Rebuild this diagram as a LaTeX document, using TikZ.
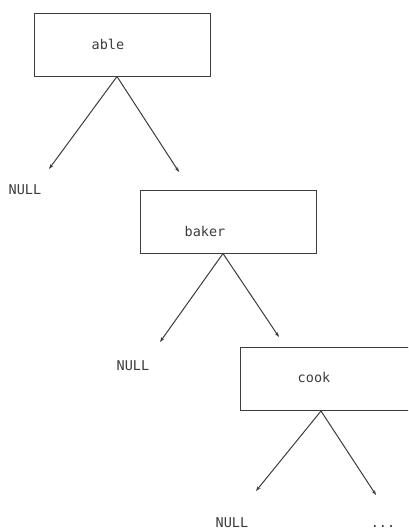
\documentclass[tikz,border=0pt]{standalone}
\usepackage{fontspec}
\setmonofont{DejaVu Sans Mono}
\usetikzlibrary{arrows.meta}
\definecolor{ink}{RGB}{60,60,60}
\tikzset{
  box/.style={draw=ink, line width=1pt, minimum width=176pt, minimum height=63pt, inner sep=0pt},
  lbl/.style={text=ink, font=\ttfamily\fontsize{13.5}{15}\selectfont, inner sep=0pt},
  ptr/.style={draw=ink, line width=1pt, -{Stealth[length=5pt,width=3.5pt]}}
}
\begin{document}
\begin{tikzpicture}[x=1pt,y=-1pt]
\useasboundingbox (0,0) rectangle (408,531);
\clip (0,0) rectangle (408,531);
% boxes
\node[box] (able) at (122,44.5) {};
\node[box] (baker) at (228,221.5) {};
\node[box] (cook) at (328,379) {};
% texts inside boxes
\node[lbl] (tAble) at (108,44) {able};
\node[lbl] (tBaker) at (205,231) {baker};
\node[lbl] (tCook) at (314,377) {cook};
% outer labels
\node[lbl] (null1) at (25,190) {NULL};
\node[lbl] (null2) at (133,366) {NULL};
\node[lbl] (null3) at (232,523) {NULL};
\node[lbl] (dots) at (383,526) {...};
% arrow ends
\coordinate (a1) at (49,169);
\coordinate (a2) at (179,172);
\coordinate (b1) at (160,342);
\coordinate (b2) at (279,337);
\coordinate (c1) at (256,491);
\coordinate (c2) at (376,495);
% pointers
\draw[ptr] ([xshift=-5pt]able.south) -- (a1);
\draw[ptr] ([xshift=-5pt]able.south) -- (a2);
\draw[ptr] ([xshift=-5pt]baker.south) -- (b1);
\draw[ptr] ([xshift=-5pt]baker.south) -- (b2);
\draw[ptr] ([xshift=-7pt]cook.south) -- (c1);
\draw[ptr] ([xshift=-7pt]cook.south) -- (c2);
\end{tikzpicture}
\end{document}
